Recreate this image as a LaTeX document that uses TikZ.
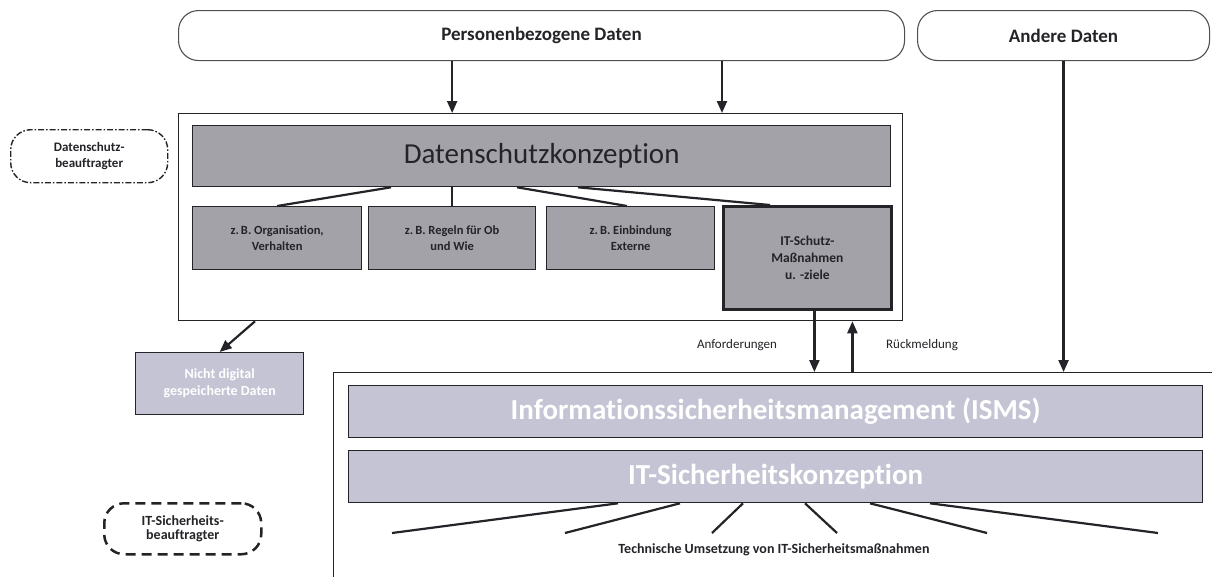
\documentclass[tikz,border=0pt]{standalone}
\usepackage{fontspec}
\setmainfont[Ligatures=NoCommon]{Carlito}
\usetikzlibrary{arrows.meta,calc}
\definecolor{dsgray}{RGB}{162,162,168}
\definecolor{lav}{RGB}{196,196,212}
\definecolor{ink}{RGB}{35,35,40}
\definecolor{rim}{RGB}{80,80,80}
\tikzset{
  px/.style={x=1pt,y=-1pt},
  box/.style={draw=ink,line width=1.3pt,inner sep=0pt,align=center,anchor=north west},
  pill/.style={draw=rim,line width=1.1pt,rounded corners=20pt,fill=white,inner sep=0pt,anchor=north west},
  graybox/.style={box,fill=dsgray,text=ink,font=\bfseries\fontsize{12.5}{16}\selectfont},
  lavbar/.style={box,fill=lav,text=white,font=\bfseries\fontsize{29}{32}\selectfont},
  conn/.style={draw=ink,line width=2.2pt},
  arr/.style={conn,-{Triangle[length=12pt,width=10pt]}},
  lbl/.style={text=ink,inner sep=0pt}
}
\begin{document}
\begin{tikzpicture}[px]
\useasboundingbox (0,0) rectangle (1212,576);
\clip (0,0) rectangle (1212,576);
\fill[white] (0,0) rectangle (1212,576);

% top pills
\node[pill,minimum width=726pt,minimum height=50pt] (pb) at (178,10) {};
\node[lbl,font=\bfseries\fontsize{19}{22}\selectfont] (pbt) at (pb.center) {Personenbezogene Daten};
\node[pill,minimum width=292pt,minimum height=50pt] (ad) at (917,10) {};
\node[lbl,font=\bfseries\fontsize{19}{22}\selectfont] (adt) at (ad.center) {Andere Daten};

% Datenschutz block
\node[box,fill=white,minimum width=724pt,minimum height=207pt] (dsbox) at (178,113) {};
\node[box,fill=dsgray,minimum width=698pt,minimum height=61pt,text=ink,font=\fontsize{29}{32}\selectfont] (dk) at (192,125) {Datenschutzkonzeption};
\node[graybox,minimum width=169pt,minimum height=63pt] (b1) at (192,206) {z.\,B. Organisation,\\Verhalten};
\node[graybox,minimum width=167pt,minimum height=63pt] (b2) at (368,206) {z.\,B. Regeln für Ob\\und Wie};
\node[graybox,minimum width=168pt,minimum height=63pt] (b3) at (546,206) {z.\,B. Einbindung\\Externe};
\node[graybox,line width=2.8pt,minimum width=168pt,minimum height=103pt,font=\bfseries\fontsize{13.5}{17}\selectfont] (b4) at (722,205) {IT-Schutz-\\Maßnahmen\\u. -ziele};

\draw[conn] ($(dk.south west)+(199,0)$) -- (b1.north);
\draw[conn] (dk.south -| b2.north) -- (b2.north);
\draw[conn] ($(dk.south west)+(325,0)$) -- ($(b3.north west)+(81,0)$);
\draw[conn] ($(dk.south west)+(386,0)$) -- ($(b4.north west)+(48,0)$);

% side nodes
\node[draw=ink,line width=1.4pt,dash pattern=on 6pt off 2pt on 1.5pt off 2pt,rounded corners=20pt,minimum width=157pt,minimum height=53pt,inner sep=0pt,anchor=north west,align=center,text=ink,font=\bfseries\fontsize{13}{16}\selectfont] (dsb) at (10,129) {Datenschutz-\\beauftragter};
\node[draw=ink,line width=2.5pt,dash pattern=on 10pt off 6pt,rounded corners=20pt,minimum width=157pt,minimum height=51pt,inner sep=0pt,anchor=north west,align=center,text=ink,font=\bfseries\fontsize{14}{14}\selectfont] (itsb) at (103,502) {IT-Sicherheits-\\beauftragter};
\node[box,fill=lav,text=white,minimum width=168pt,minimum height=62pt,font=\bfseries\fontsize{14}{17}\selectfont] (nd) at (135,352) {Nicht digital\\gespeicherte Daten};
\draw[arr] ($(dsbox.south west)+(77,0)$) -- (nd.north);

% ISMS block
\node[draw=ink,line width=1.3pt,minimum width=900pt,minimum height=240pt,inner sep=0pt,anchor=north west] (ismsbox) at (333,372) {};
\node[lavbar,minimum width=854pt,minimum height=52pt] (isms) at (348,385) {Informationssicherheitsmanagement (ISMS)};
\node[lavbar,minimum width=854pt,minimum height=52pt] (itbar) at (348,450) {IT-Sicherheitskonzeption};

% arrows top
\draw[arr] (pb.south -| b2.north) -- (dsbox.north -| b2.north);
\draw[arr] (pb.south -| b4.north west) -- (dsbox.north -| b4.north west);
\draw[arr] (ad.south) -- (ad.south |- ismsbox.north);

% Anforderungen / Rueckmeldung
\draw[arr] ([xshift=7pt]b4.south) -- ([xshift=7pt]b4.south |- ismsbox.north);
\draw[arr] ([xshift=45pt]b4.south |- ismsbox.north) -- ([xshift=45pt]b4.south |- dsbox.south);
\node[lbl,font=\fontsize{13}{15}\selectfont] (anf) at (737,345) {Anforderungen};
\node[lbl,font=\fontsize{13}{15}\selectfont] (rm) at (922,345) {Rückmeldung};

% bottom fan
\coordinate (t1) at (392,533);
\coordinate (t2) at (565,533);
\coordinate (t3) at (712,533);
\coordinate (t4) at (837,533);
\coordinate (t5) at (987,533);
\coordinate (t6) at (1158,533);
\draw[conn] ($(itbar.south west)+(270,0)$) -- (t1);
\draw[conn] ($(itbar.south west)+(332,0)$) -- (t2);
\draw[conn] ($(itbar.south west)+(395,0)$) -- (t3);
\draw[conn] ($(itbar.south west)+(457,0)$) -- (t4);
\draw[conn] ($(itbar.south west)+(522,0)$) -- (t5);
\draw[conn] ($(itbar.south west)+(582,0)$) -- (t6);
\node[lbl,font=\bfseries\fontsize{14}{16}\selectfont] (tech) at (774,550) {Technische Umsetzung von IT-Sicherheitsmaßnahmen};
\end{tikzpicture}
\end{document}
